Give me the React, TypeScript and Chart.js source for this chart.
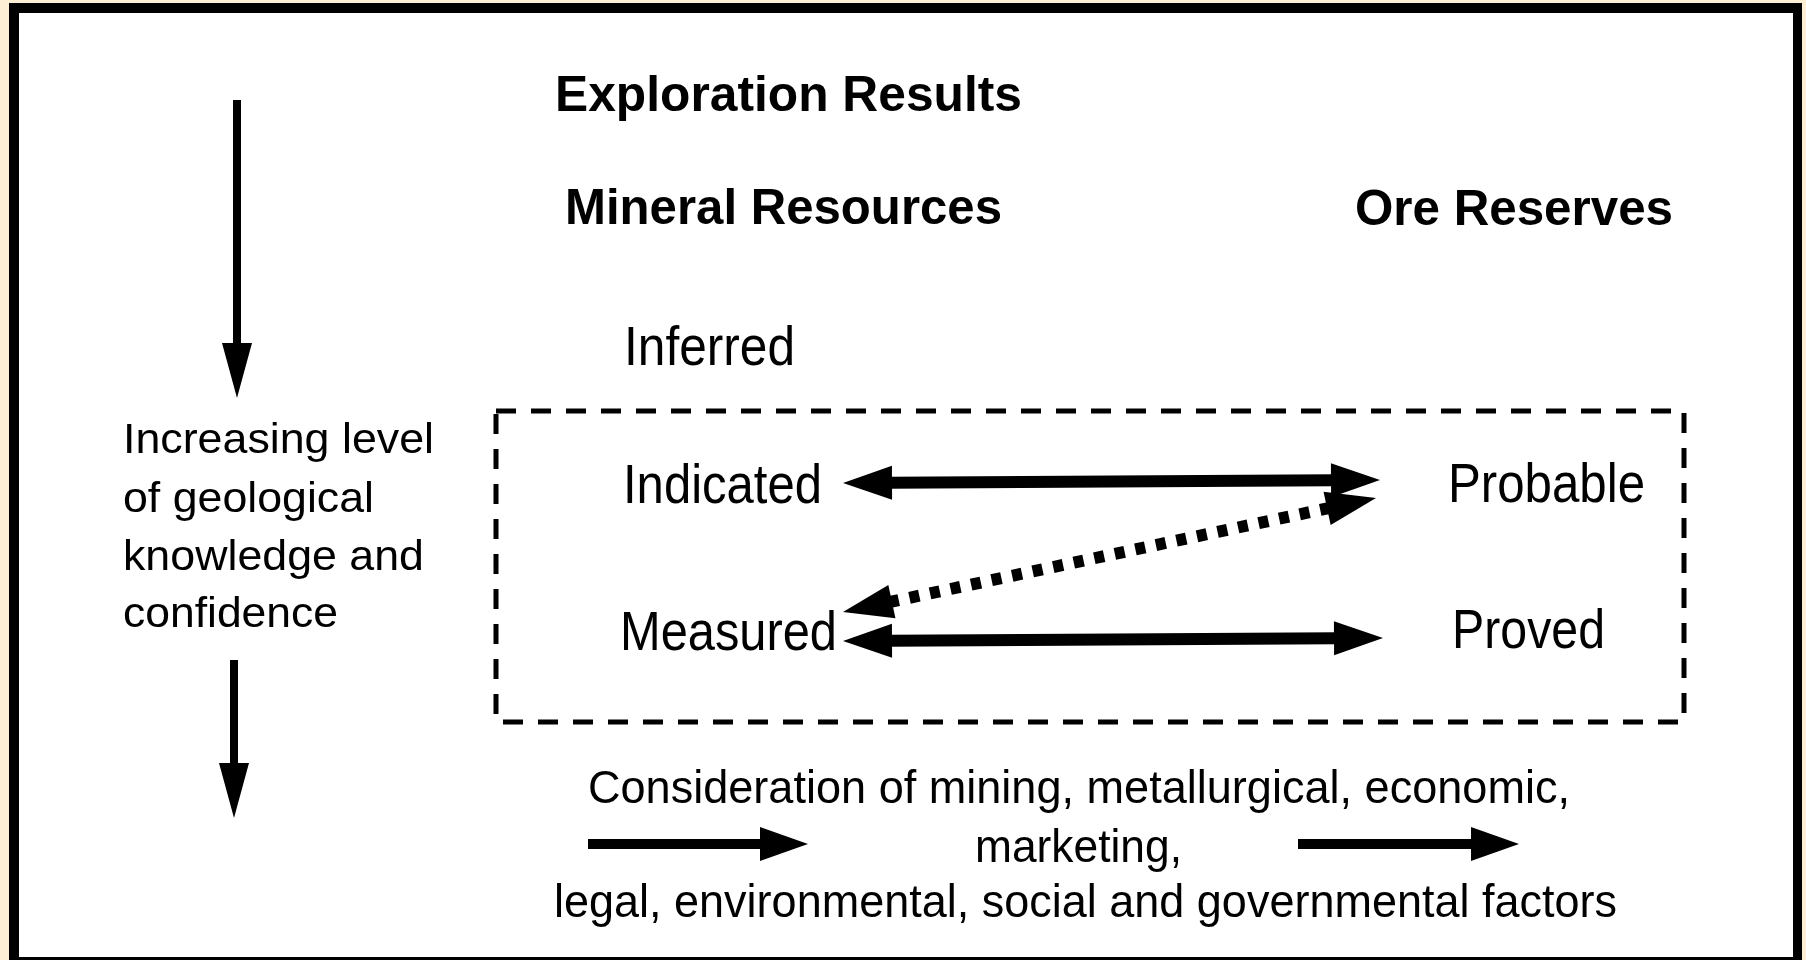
import React, { useEffect, useRef } from "react";
import { Chart, registerables } from "chart.js";

Chart.register(...registerables);

const W = 1806;
const H = 960;

// ---- Text content and where it sits (diagram units = pixels of the original) ----
const headingTexts = ["Exploration Results", "Mineral Resources", "Ore Reserves"];
const headingLeft = [555, 565, 1355];
const headingRight = [1022, 1002, 1673];
const headingBaseline = [111, 224, 225];

const stageTexts = ["Inferred", "Indicated", "Measured", "Probable", "Proved"];
const stageLeft = [624, 623, 620, 1448, 1452];
const stageRight = [795, 822, 837, 1645, 1605];
const stageBaseline = [365, 503, 650, 502, 648];

const confidenceLines = ["Increasing level", "of geological", "knowledge and", "confidence"];
const confidenceLeft = [123, 123, 123, 123];
const confidenceRight = [434, 374, 424, 338];
const confidenceBaseline = [453, 512, 570, 627];

const factorLines = [
  "Consideration of mining, metallurgical, economic,",
  "marketing,",
  "legal, environmental, social and governmental factors",
];
const factorLeft = [588, 975, 554];
const factorRight = [1570, 1182, 1617];
const factorBaseline = [803, 862, 917];

// ---- Arrows ----
const arrowStartX = [843, 843, 843, 237, 234, 588, 1298];
const arrowStartY = [483, 612, 641, 100, 660, 844, 844];
const arrowEndX = [1380, 1376, 1383, 237, 234, 808, 1519];
const arrowEndY = [480, 498, 638, 398, 818, 844, 844];
const arrowBothEnds = [true, true, true, false, false, false, false];
const arrowDotted = [false, true, false, false, false, false, false];

// ---- Dashed box ----
const boxX = [496, 1684, 1684, 496, 496];
const boxY = [411, 411, 722, 722, 411];

// ---- Frame ----
const frameOuter = [9, 3, 1802, 960];
const frameInner = [19, 13, 1793, 957];

// styles (kept apart from the data)
const shaftWidth = [12, 12, 12, 8, 8, 10, 10];
const headLength = [49, 50, 49, 55, 55, 48, 48];
const headHalf = [17, 17, 17, 15, 15, 17, 17];
const FONT = '"Liberation Sans", Arial, Helvetica, sans-serif';

function unit(i: number) {
  const dx = arrowEndX[i] - arrowStartX[i];
  const dy = arrowEndY[i] - arrowStartY[i];
  const len = Math.hypot(dx, dy);
  return [dx / len, dy / len];
}

function shaftPoints(i: number) {
  const [ux, uy] = unit(i);
  const cut = headLength[i] - 3;
  const s = arrowBothEnds[i] ? cut : 0;
  return [
    { x: arrowStartX[i] + ux * s, y: arrowStartY[i] + uy * s },
    { x: arrowEndX[i] - ux * cut, y: arrowEndY[i] - uy * cut },
  ];
}

const diagramPlugin = {
  id: "diagram",
  beforeDraw(chart: any) {
    const { ctx, scales } = chart;
    const sx = (v: number) => scales.x.getPixelForValue(v);
    const sy = (v: number) => scales.y.getPixelForValue(v);
    ctx.save();
    ctx.fillStyle = "#FCEFD6";
    ctx.fillRect(0, 0, chart.width, chart.height);
    ctx.fillStyle = "#000000";
    ctx.fillRect(sx(frameOuter[0]), sy(frameOuter[1]), sx(frameOuter[2]) - sx(frameOuter[0]), sy(frameOuter[3]) - sy(frameOuter[1]));
    ctx.fillStyle = "#FFFFFF";
    ctx.fillRect(sx(frameInner[0]), sy(frameInner[1]), sx(frameInner[2]) - sx(frameInner[0]), sy(frameInner[3]) - sy(frameInner[1]));
    ctx.restore();
  },
  afterDatasetsDraw(chart: any) {
    const { ctx, scales } = chart;
    const sx = (v: number) => scales.x.getPixelForValue(v);
    const sy = (v: number) => scales.y.getPixelForValue(v);

    // arrow heads
    ctx.save();
    ctx.fillStyle = "#000000";
    const head = (tx: number, ty: number, ux: number, uy: number, L: number, hw: number) => {
      const bx = tx - ux * L;
      const by = ty - uy * L;
      const nx = -uy;
      const ny = ux;
      ctx.beginPath();
      ctx.moveTo(sx(tx), sy(ty));
      ctx.lineTo(sx(bx + nx * hw), sy(by + ny * hw));
      ctx.lineTo(sx(bx - nx * hw), sy(by - ny * hw));
      ctx.closePath();
      ctx.fill();
    };
    for (let i = 0; i < arrowStartX.length; i++) {
      const [ux, uy] = unit(i);
      head(arrowEndX[i], arrowEndY[i], ux, uy, headLength[i], headHalf[i]);
      if (arrowBothEnds[i]) head(arrowStartX[i], arrowStartY[i], -ux, -uy, headLength[i], headHalf[i]);
    }
    ctx.restore();

    // texts
    const drawGroup = (
      texts: string[],
      left: number[],
      right: number[],
      base: number[],
      size: number,
      weight: string
    ) => {
      ctx.save();
      ctx.fillStyle = "#000000";
      ctx.font = `${weight} ${size}px ${FONT}`;
      ctx.textAlign = "left";
      ctx.textBaseline = "alphabetic";
      texts.forEach((t, i) => {
        const x0 = sx(left[i]);
        const x1 = sx(right[i]);
        const m = ctx.measureText(t).width;
        const k = (x1 - x0) / m;
        ctx.save();
        ctx.translate(x0, sy(base[i]));
        ctx.scale(k, 1);
        ctx.fillText(t, 0, 0);
        ctx.restore();
      });
      ctx.restore();
    };
    drawGroup(headingTexts, headingLeft, headingRight, headingBaseline, 50, "bold");
    drawGroup(stageTexts, stageLeft, stageRight, stageBaseline, 55, "normal");
    drawGroup(confidenceLines, confidenceLeft, confidenceRight, confidenceBaseline, 43, "normal");
    drawGroup(factorLines, factorLeft, factorRight, factorBaseline, 47, "normal");
  },
};

export default function App() {
  const canvasRef = useRef<HTMLCanvasElement | null>(null);

  useEffect(() => {
    const canvas = canvasRef.current;
    if (!canvas) return;

    const datasets: any[] = [];
    datasets.push({
      label: "Mineral Resources / Ore Reserves box",
      data: boxX.map((x, i) => ({ x, y: boxY[i] })),
      showLine: true,
      borderColor: "#000000",
      borderWidth: 5,
      borderDash: [20, 15],
      borderCapStyle: "butt",
      borderJoinStyle: "miter",
      pointRadius: 0,
      fill: false,
      tension: 0,
    });
    for (let i = 0; i < arrowStartX.length; i++) {
      datasets.push({
        label: `arrow ${i}`,
        data: shaftPoints(i),
        showLine: true,
        borderColor: "#000000",
        borderWidth: shaftWidth[i],
        borderDash: arrowDotted[i] ? [10, 11] : [],
        borderCapStyle: "butt",
        pointRadius: 0,
        fill: false,
        tension: 0,
      });
    }

    const chart = new Chart(canvas, {
      type: "scatter",
      data: { datasets },
      options: {
        animation: false,
        responsive: false,
        devicePixelRatio: 1,
        events: [],
        layout: { padding: 0 },
        plugins: { legend: { display: false }, tooltip: { enabled: false } },
        scales: {
          x: { type: "linear", min: 0, max: W, display: false },
          y: { type: "linear", min: 0, max: H, reverse: true, display: false },
        },
      },
      plugins: [diagramPlugin],
    } as any);

    return () => chart.destroy();
  }, []);

  return (
    <div style={{ position: "fixed", left: 0, top: 0, width: W, height: H, overflow: "hidden" }}>
      <canvas ref={canvasRef} width={W} height={H} style={{ display: "block", width: W, height: H }} />
    </div>
  );
}
